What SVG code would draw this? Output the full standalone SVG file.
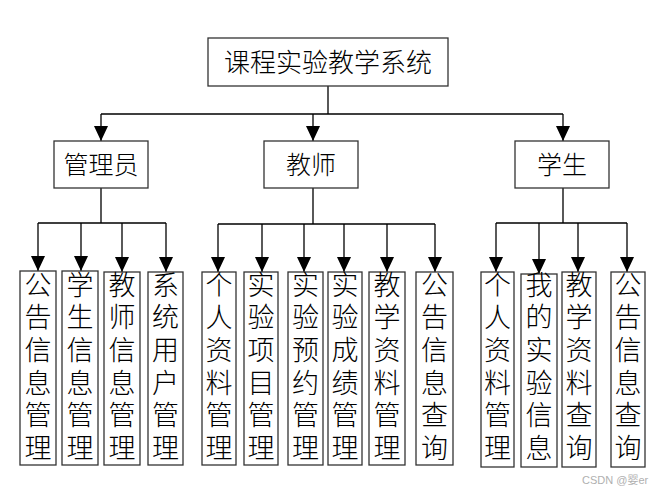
<svg xmlns="http://www.w3.org/2000/svg" width="658" height="492" viewBox="0 0 658 492">
<style>
.box{fill:#fff;stroke:#333;stroke-width:1.3}
.ln{fill:none;stroke:#000;stroke-width:1.3}
.t{font-family:"Noto Sans CJK SC","Liberation Serif",serif;fill:#000;text-anchor:middle;font-weight:300}
.big{font-size:26px}
.mid{font-size:25px}
.v{font-size:27px;writing-mode:vertical-rl;text-anchor:start;letter-spacing:5.6px}
.wm{font-family:"Liberation Sans","Noto Sans CJK SC",sans-serif;font-size:11px;fill:#b0b0b0}
</style>
<defs>
<marker id="ah" markerUnits="userSpaceOnUse" markerWidth="15" markerHeight="14" refX="15" refY="7" orient="auto">
<path d="M0,0 L15,7 L0,14 z" fill="#000"/>
</marker>
</defs>
<rect width="658" height="492" fill="#fff"/>
<g id="connectors">
<path class="ln" d="M328,86 V114 M101,114 H563"/>
<path class="ln" marker-end="url(#ah)" d="M101,114 V141"/>
<path class="ln" marker-end="url(#ah)" d="M313,114 V141"/>
<path class="ln" marker-end="url(#ah)" d="M563,114 V141"/>
<path class="ln" d="M101,188 V223 M38,223 H166"/>
<path class="ln" marker-end="url(#ah)" d="M38,223 V271"/>
<path class="ln" marker-end="url(#ah)" d="M81,223 V271"/>
<path class="ln" marker-end="url(#ah)" d="M122,223 V272"/>
<path class="ln" marker-end="url(#ah)" d="M166,223 V272"/>
<path class="ln" d="M313,188 V224 M218,224 H435"/>
<path class="ln" marker-end="url(#ah)" d="M218,224 V272"/>
<path class="ln" marker-end="url(#ah)" d="M262,224 V272"/>
<path class="ln" marker-end="url(#ah)" d="M304,224 V272"/>
<path class="ln" marker-end="url(#ah)" d="M344,224 V272"/>
<path class="ln" marker-end="url(#ah)" d="M387,224 V272"/>
<path class="ln" marker-end="url(#ah)" d="M435,224 V272"/>
<path class="ln" d="M563,188 V223 M496,223 H627"/>
<path class="ln" marker-end="url(#ah)" d="M496,223 V272"/>
<path class="ln" marker-end="url(#ah)" d="M539,223 V274"/>
<path class="ln" marker-end="url(#ah)" d="M578,223 V272"/>
<path class="ln" marker-end="url(#ah)" d="M627,223 V272"/>
</g>
<g id="root"><rect class="box" x="208" y="38" width="240" height="48"/><text class="t big" x="328" y="72">课程实验教学系统</text></g>
<g id="admin"><rect class="box" x="54" y="141" width="94" height="47"/><text class="t mid" x="101" y="174">管理员</text></g>
<g id="teacher"><rect class="box" x="264" y="141" width="94" height="47"/><text class="t mid" x="311" y="174">教师</text></g>
<g id="student"><rect class="box" x="515" y="141" width="94" height="47"/><text class="t mid" x="562" y="174">学生</text></g>

<g id="a1"><rect class="box" x="20" y="271" width="36" height="194"/><text class="t v" x="38" y="271">公告信息管理</text></g>
<g id="a2"><rect class="box" x="62" y="271" width="36" height="194"/><text class="t v" x="80" y="271">学生信息管理</text></g>
<g id="a3"><rect class="box" x="104" y="272" width="36" height="193"/><text class="t v" x="122" y="271">教师信息管理</text></g>
<g id="a4"><rect class="box" x="148" y="272" width="35" height="193"/><text class="t v" x="165.5" y="271">系统用户管理</text></g>

<g id="t1"><rect class="box" x="202" y="272" width="34" height="193"/><text class="t v" x="219" y="271">个人资料管理</text></g>
<g id="t2"><rect class="box" x="244" y="272" width="34" height="193"/><text class="t v" x="261" y="271">实验项目管理</text></g>
<g id="t3"><rect class="box" x="288" y="272" width="35" height="193"/><text class="t v" x="305.5" y="271">实验预约管理</text></g>
<g id="t4"><rect class="box" x="328" y="272" width="34" height="193"/><text class="t v" x="345" y="271">实验成绩管理</text></g>
<g id="t5"><rect class="box" x="369" y="272" width="36" height="193"/><text class="t v" x="387" y="271">教学资料管理</text></g>
<g id="t6"><rect class="box" x="416" y="272" width="37" height="193"/><text class="t v" x="434.5" y="271">公告信息查询</text></g>

<g id="s1"><rect class="box" x="481" y="272" width="33" height="195"/><text class="t v" x="497.5" y="271">个人资料管理</text></g>
<g id="s2"><rect class="box" x="521" y="274" width="36" height="193"/><text class="t v" x="539" y="271">我的实验信息</text></g>
<g id="s3"><rect class="box" x="562" y="272" width="34" height="195"/><text class="t v" x="579" y="271">教学资料查询</text></g>
<g id="s4"><rect class="box" x="611" y="272" width="34" height="195"/><text class="t v" x="628" y="271">公告信息查询</text></g>

<text class="wm" x="582" y="484">CSDN @婴er</text>
</svg>
